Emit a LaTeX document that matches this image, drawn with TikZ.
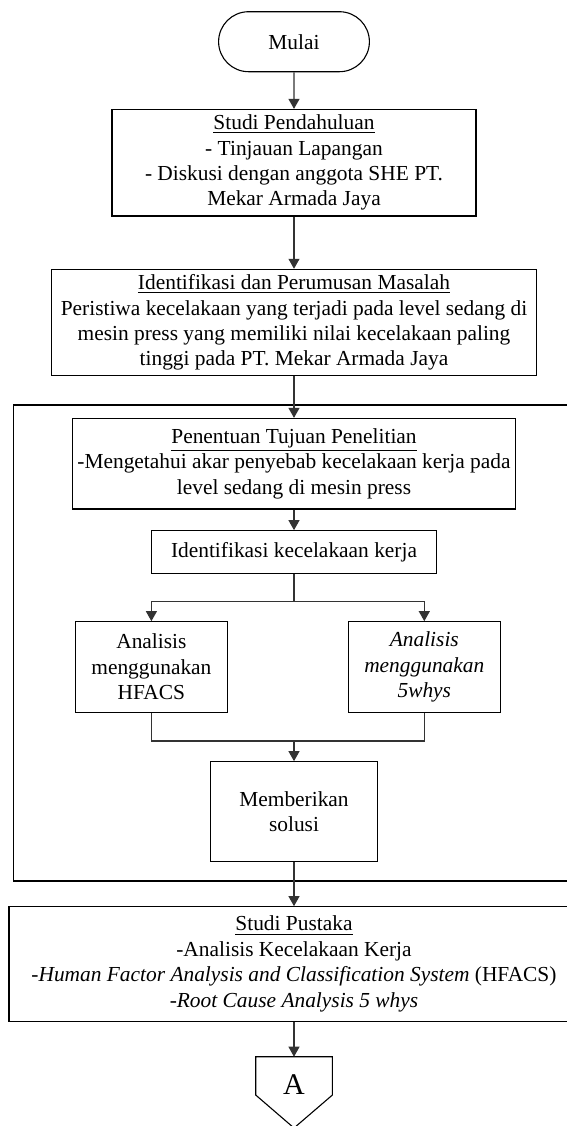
\documentclass[tikz,border=0pt]{standalone}
\usepackage{fontspec}
\setmainfont{Liberation Serif}
\usepackage{tikz}
\usetikzlibrary{arrows.meta, shapes.misc}
\tikzset{
  txt/.style = {font=\fontsize{10.7}{12.7}\selectfont, align=center, inner sep=0pt},
  kotak/.style = {txt, draw, rectangle, line width=0.55pt},
  alur/.style = {line width=0.55pt, draw=black!80, -{Triangle[width=5.5pt, length=5pt]}},
  garis/.style = {line width=0.55pt, draw=black!80}
}

\begin{document}
\begin{tikzpicture}[x=0.5pt, y=-0.5pt]
\useasboundingbox (0,0) rectangle (567,1126);

\node[txt, draw, rounded rectangle, line width=0.55pt, minimum width=75.4pt, minimum height=30pt] (mulai) at (294,41.7) {Mulai};
\node[kotak, minimum width=182pt, minimum height=53.3pt] (pendahuluan) at (294,162.7) {\underline{Studi Pendahuluan}\\- Tinjauan Lapangan\\- Diskusi dengan anggota SHE PT.\\Mekar Armada Jaya};
\node[kotak, minimum width=242.5pt, minimum height=53.2pt] (masalah) at (294,322.5) {\underline{Identifikasi dan Perumusan Masalah}\\Peristiwa kecelakaan yang terjadi pada level sedang di\\mesin press yang memiliki nilai kecelakaan paling\\tinggi pada PT. Mekar Armada Jaya};

\draw[line width=0.55pt] (13.4,405) rectangle (574.6,881);

\node[kotak, minimum width=221.5pt, minimum height=45.3pt] (tujuan) at (294,463.7) {\underline{Penentuan Tujuan Penelitian}\\-Mengetahui akar penyebab kecelakaan kerja pada\\level sedang di mesin press};
\node[kotak, minimum width=142.7pt, minimum height=21.2pt] (identifikasi) at (294,551.9) {Identifikasi kecelakaan kerja};
\node[kotak, minimum width=76.2pt, minimum height=45.3pt] (hfacs) at (151.4,667) {Analisis\\menggunakan\\HFACS};
\node[kotak, minimum width=76pt, minimum height=45.3pt] (whys) at (424.3,667) {\textit{Analisis}\\\textit{menggunakan}\\\textit{5whys}};
\node[kotak, minimum width=83.2pt, minimum height=49.7pt] (solusi) at (294,811.4) {Memberikan\\solusi};

\node[kotak, minimum width=285pt, minimum height=57.2pt] (pustaka) at (294,963.9) {\underline{Studi Pustaka}\\-Analisis Kecelakaan Kerja\\-\textit{Human Factor Analysis and Classification System} (HFACS)\\-\textit{Root Cause Analysis 5 whys}};

\coordinate (cabang) at (294,601.7);
\coordinate (gabung) at (294,741);
\coordinate (Atop) at (294,1056.7);

\draw[line width=0.55pt] (255.7,1056.7) -- (332.4,1056.7) -- (332.4,1095) -- (294,1128) -- (255.7,1095) -- cycle;
\node[font=\fontsize{15}{18}\selectfont, inner sep=0pt] (hurufA) at (294,1085) {A};

\draw[alur] (mulai) -- (pendahuluan);
\draw[alur] (pendahuluan) -- (masalah);
\draw[alur] (masalah) -- (tujuan);
\draw[alur] (tujuan) -- (identifikasi);
\draw[garis] (identifikasi) -- (cabang);
\draw[alur] (cabang) -| (hfacs);
\draw[alur] (cabang) -| (whys);
\draw[garis] (hfacs) |- (gabung);
\draw[garis] (whys) |- (gabung);
\draw[alur] (gabung) -- (solusi);
\draw[alur] (solusi) -- (pustaka);
\draw[alur] (pustaka) -- (Atop);

\end{tikzpicture}
\end{document}
